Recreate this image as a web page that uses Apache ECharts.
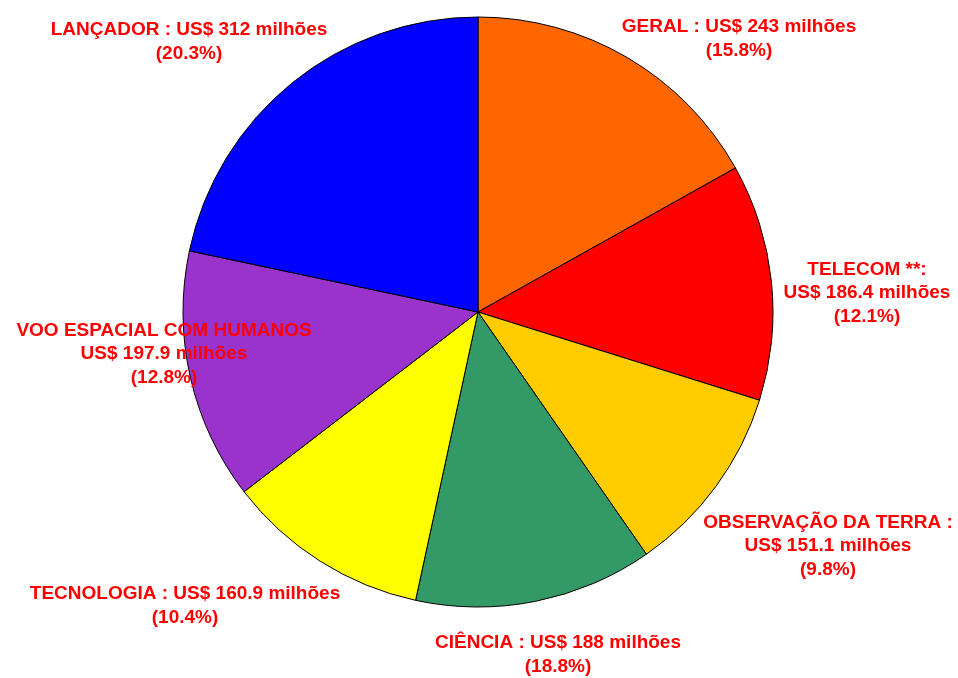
<!DOCTYPE html>
<html>
<head>
<meta charset="utf-8">
<script src="https://cdn.jsdelivr.net/npm/echarts@6/dist/echarts.min.js"></script>
<style>
  html, body { margin: 0; padding: 0; background: #fff; }
  #chart { width: 958px; height: 678px; }
</style>
</head>
<body>
<div id="chart"></div>
<script>
// Orçamento por área (US$ milhões), em sentido horário a partir do topo
const categories = ['GERAL', 'TELECOM **', 'OBSERVAÇÃO DA TERRA', 'CIÊNCIA', 'TECNOLOGIA', 'VOO ESPACIAL COM HUMANOS', 'LANÇADOR'];
const values = [243, 186.4, 151.1, 188, 160.9, 197.9, 312];
const shares = ['15.8%', '12.1%', '9.8%', '18.8%', '10.4%', '12.8%', '20.3%'];
const colors = ['#FF6600', '#FF0000', '#FFCC00', '#339966', '#FFFF00', '#9933CC', '#0000FF'];

// Texto de cada rótulo, com as quebras de linha de cada fatia
function labelText(i) {
  const v = 'US$ ' + values[i] + ' milhões';
  const p = '(' + shares[i] + ')';
  switch (i) {
    case 1: return 'TELECOM **:\n' + v + '\n' + p;
    case 2: return 'OBSERVAÇÃO DA TERRA :\n' + v + '\n' + p;
    case 5: return 'VOO ESPACIAL COM HUMANOS\n' + v + '\n' + p;
    default: return categories[i] + ' : ' + v + '\n' + p;
  }
}

// Posição do centro de cada bloco de rótulo
const labelSpots = [
  [739, 39], [867, 293], [828, 546], [558, 655], [185, 606], [164, 354], [189, 42]
];

const chart = echarts.init(document.getElementById('chart'), null, { renderer: 'canvas' });
chart.setOption({
  backgroundColor: '#ffffff',
  animation: false,
  series: [{
    type: 'pie',
    center: [478, 312],
    radius: [0, 295],
    startAngle: 90,
    clockwise: true,
    avoidLabelOverlap: false,
    data: categories.map((c, i) => ({
      name: c,
      value: values[i],
      itemStyle: { color: colors[i] }
    })),
    itemStyle: { borderColor: '#000000', borderWidth: 1 },
    label: {
      show: true,
      position: 'outside',
      formatter: p => labelText(p.dataIndex),
      color: '#FF0000',
      fontFamily: 'Liberation Sans, Arial, sans-serif',
      fontWeight: 'bold',
      fontSize: 19,
      lineHeight: 23.5,
      align: 'center'
    },
    labelLine: { show: false },
    labelLayout: p => ({
      x: labelSpots[p.dataIndex][0],
      y: labelSpots[p.dataIndex][1],
      align: 'center',
      verticalAlign: 'middle'
    }),
    emphasis: { disabled: true }
  }]
});
</script>
</body>
</html>
